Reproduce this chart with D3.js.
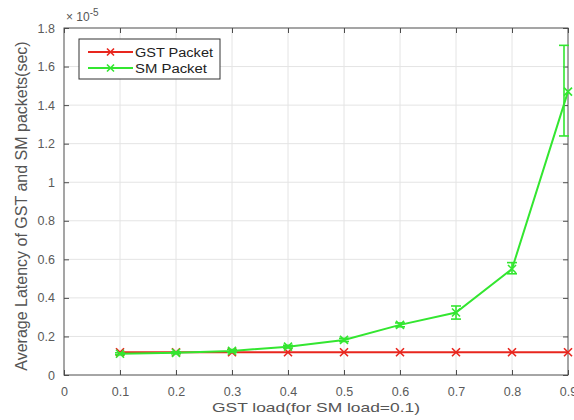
<!DOCTYPE html>
<html>
<head>
<meta charset="utf-8">
<script src="https://cdn.jsdelivr.net/npm/d3@7"></script>
<style>
  html, body { margin: 0; padding: 0; background: #fff; }
  svg { display: block; font-family: "Liberation Sans", Arial, sans-serif; }
</style>
</head>
<body>
<svg></svg>
<script>
// GST load vs average latency (units of 1e-5 sec)
const loads = [0.1, 0.2, 0.3, 0.4, 0.5, 0.6, 0.7, 0.8, 0.9];
const gstLatency = [0.118, 0.118, 0.118, 0.118, 0.118, 0.118, 0.118, 0.118, 0.118];
const smLatency = [0.11, 0.115, 0.125, 0.147, 0.182, 0.26, 0.324, 0.55, 1.47];
const smErrLow = [0.105, 0.11, 0.118, 0.14, 0.174, 0.25, 0.29, 0.525, 1.24];
const smErrHigh = [0.115, 0.12, 0.132, 0.154, 0.19, 0.27, 0.358, 0.583, 1.71];
const xTicks = [0, 0.1, 0.2, 0.3, 0.4, 0.5, 0.6, 0.7, 0.8, 0.9];
const yTicks = [0, 0.2, 0.4, 0.6, 0.8, 1, 1.2, 1.4, 1.6, 1.8];

const width = 574, height = 420;
const margin = {top: 28, right: 6, bottom: 45, left: 64};
const red = '#e8261e', green = '#33e630';

const svg = d3.select('svg').attr('width', width).attr('height', height);

const x = d3.scaleLinear().domain([0, 0.9]).range([margin.left, width - margin.right]);
const y = d3.scaleLinear().domain([0, 1.8]).range([height - margin.bottom, margin.top]);

// grid
svg.append('g')
  .selectAll('line')
  .data(xTicks.slice(1, -1))
  .join('line')
  .attr('x1', d => x(d)).attr('x2', d => x(d))
  .attr('y1', y(0)).attr('y2', y(1.8))
  .attr('stroke', '#e4e4e4').attr('stroke-width', 1);

svg.append('g')
  .selectAll('line')
  .data(yTicks.slice(1, -1))
  .join('line')
  .attr('x1', x(0)).attr('x2', x(0.9))
  .attr('y1', d => y(d)).attr('y2', d => y(d))
  .attr('stroke', '#e4e4e4').attr('stroke-width', 1);

// axes with inward ticks
const tickColor = '#4d4d4d';
const styleAxis = g => {
  g.select('.domain').remove();
  g.selectAll('.tick line').attr('stroke', tickColor);
  g.selectAll('.tick text').attr('fill', '#5a5a5a').style('font-size', '12.5px');
};

svg.append('g')
  .attr('transform', `translate(0,${y(0)})`)
  .call(d3.axisBottom(x).tickValues(xTicks).tickFormat(d3.format('')).tickSizeInner(-5).tickPadding(12))
  .call(styleAxis);

svg.append('g')
  .attr('transform', `translate(0,${y(1.8)})`)
  .call(d3.axisTop(x).tickValues(xTicks).tickFormat('').tickSizeInner(-5))
  .call(styleAxis);

svg.append('g')
  .attr('transform', `translate(${x(0)},0)`)
  .call(d3.axisLeft(y).tickValues(yTicks).tickFormat(d3.format('')).tickSizeInner(-5).tickPadding(9))
  .call(styleAxis);

svg.append('g')
  .attr('transform', `translate(${x(0.9)},0)`)
  .call(d3.axisRight(y).tickValues(yTicks).tickFormat('').tickSizeInner(-5))
  .call(styleAxis);

svg.append('rect')
  .attr('x', x(0)).attr('y', y(1.8))
  .attr('width', x(0.9) - x(0)).attr('height', y(0) - y(1.8))
  .attr('fill', 'none').attr('stroke', tickColor).attr('stroke-width', 1);

// exponent label
const expo = svg.append('text')
  .attr('x', x(0) + 2).attr('y', y(1.8) - 7)
  .attr('fill', '#555').style('font-size', '12px');
expo.append('tspan').text('\u00d7 10');
expo.append('tspan').attr('dy', -5).style('font-size', '10px').text('-5');

// series
const line = d3.line().x(d => x(d[0])).y(d => y(d[1]));
const crossPath = (cx, cy, s) => `M${cx - s},${cy - s}L${cx + s},${cy + s}M${cx - s},${cy + s}L${cx + s},${cy - s}`;

function drawSeries(values, color) {
  const pts = loads.map((l, i) => [l, values[i]]);
  svg.append('path')
    .datum(pts)
    .attr('d', line)
    .attr('fill', 'none')
    .attr('stroke', color)
    .attr('stroke-width', 2);
  svg.append('g')
    .selectAll('path')
    .data(pts)
    .join('path')
    .attr('d', d => crossPath(x(d[0]), y(d[1]), 4))
    .attr('stroke', color)
    .attr('stroke-width', 1.6)
    .attr('fill', 'none');
}

drawSeries(gstLatency, red);

// error bars for SM
const errG = svg.append('g').attr('stroke', green).attr('stroke-width', 1.6);
loads.forEach((l, i) => {
  const cx = Math.min(x(l), x(0.9) - 4);
  errG.append('line')
    .attr('x1', cx).attr('x2', cx)
    .attr('y1', y(smErrLow[i])).attr('y2', y(smErrHigh[i]));
  [smErrLow[i], smErrHigh[i]].forEach(v => {
    errG.append('line')
      .attr('x1', cx - 5).attr('x2', cx + 5)
      .attr('y1', y(v)).attr('y2', y(v));
  });
});

drawSeries(smLatency, green);

// legend
const lg = svg.append('g').attr('transform', 'translate(79,39)');
lg.append('rect')
  .attr('width', 141).attr('height', 40)
  .attr('fill', '#fff').attr('stroke', '#333').attr('stroke-width', 1);
[['GST Packet', red, 78], ['SM Packet', green, 72]].forEach(([name, color, len], i) => {
  const ly = 13 + i * 16;
  lg.append('line')
    .attr('x1', 9).attr('x2', 54).attr('y1', ly).attr('y2', ly)
    .attr('stroke', color).attr('stroke-width', 2);
  lg.append('path')
    .attr('d', crossPath(31.5, ly, 3.5))
    .attr('stroke', color).attr('stroke-width', 1.6).attr('fill', 'none');
  lg.append('text')
    .attr('x', 56).attr('y', ly + 4.5)
    .attr('fill', '#222').style('font-size', '12px')
    .attr('textLength', len).attr('lengthAdjust', 'spacingAndGlyphs')
    .text(name);
});

// axis labels
svg.append('text')
  .attr('x', 316).attr('y', 412)
  .attr('text-anchor', 'middle')
  .attr('fill', '#555').style('font-size', '13.5px')
  .attr('textLength', 208).attr('lengthAdjust', 'spacingAndGlyphs')
  .text('GST load(for SM load=0.1)');

svg.append('text')
  .attr('transform', `translate(27,206) rotate(-90)`)
  .attr('text-anchor', 'middle')
  .attr('fill', '#555').style('font-size', '16px')
  .text('Average Latency of GST and SM packets(sec)');
</script>
</body>
</html>
